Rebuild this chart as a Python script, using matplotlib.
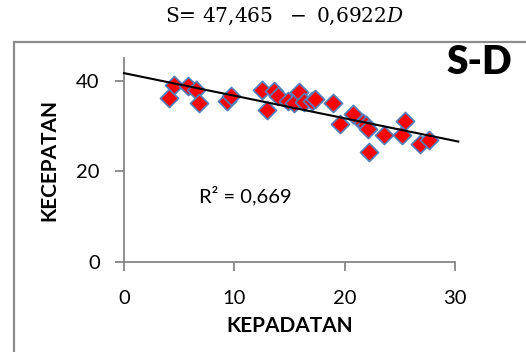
import numpy as np
import matplotlib
matplotlib.use('Agg')
import matplotlib.pyplot as plt
from matplotlib.patches import Rectangle

plt.rcParams['font.family'] = ['Lato', 'DejaVu Sans']
plt.rcParams['mathtext.fontset'] = 'dejavuserif'

# kepadatan (D) vs kecepatan (S)
kepadatan = [4.1, 4.5, 5.8, 6.5, 6.8, 9.3, 9.7, 12.5, 13.0, 13.6, 14.0, 14.9,
             15.4, 15.9, 16.3, 17.0, 17.3, 18.9, 19.6, 20.8, 21.7, 21.9, 22.1,
             22.2, 23.6, 25.2, 25.5, 26.8, 27.6]
kecepatan = [36.2, 39.0, 38.8, 37.9, 35.0, 35.5, 36.5, 38.0, 33.6, 37.7, 36.5,
             35.6, 35.0, 37.5, 35.3, 35.6, 36.0, 35.0, 30.5, 32.6, 30.7, 30.2,
             29.4, 24.3, 27.9, 27.9, 31.1, 26.1, 26.9]
x_ticks = [0, 10, 20, 30]
y_ticks = [0, 20, 40]
equation = r"S= $47{,}465\ \ -\ 0{,}6922D$"
r2_label = "R² = 0,669"
chart_tag = "S-D"

W, H = 526, 352
fig = plt.figure(figsize=(W / 100, H / 100), dpi=100)
grey = '#868686'

# chart frame (cut off at right/bottom like the source)
fig.patches.append(Rectangle((13.5 / W, -0.1), 1.2, (H - 42) / H + 0.1,
                             transform=fig.transFigure, fill=False,
                             edgecolor='#8c8c8c', linewidth=1.6))

ax = fig.add_axes([124 / W, 1 - 261.7 / H, (455 - 124) / W, (261.7 - 58) / H])
ax.scatter(kepadatan, kecepatan, marker='D', s=85, color='red',
           edgecolors='#4F81BD', linewidths=1.2, zorder=3)

# linear trendline
coef = np.polyfit(kepadatan, kecepatan, 1)
xs = np.array([0, 30.3])
ax.plot(xs, np.polyval(coef, xs), color='black', lw=1.5, zorder=4,
        clip_on=False)

ax.set_xlim(0, 30)
ax.set_ylim(0, 45)
ax.set_xticks(x_ticks)
ax.set_yticks(y_ticks)
for s in ['top', 'right']:
    ax.spines[s].set_visible(False)
for s in ['left', 'bottom']:
    ax.spines[s].set_color(grey)
    ax.spines[s].set_linewidth(1.3)
ax.tick_params(axis='both', colors=grey, width=1.3, length=6.5,
               labelcolor='black', labelsize=14.5)
ax.tick_params(axis='y', pad=11)
ax.tick_params(axis='x', pad=14)

ax.set_xlabel('KEPADATAN', fontsize=15, fontweight='bold', labelpad=6)
ax.set_ylabel('KECEPATAN', fontsize=15, fontweight='bold', labelpad=12)

ax.text(245 / W, 1 - 196 / H, r2_label, transform=fig.transFigure,
        fontsize=14.5, ha='center', va='center')
fig.text(479 / W, 1 - 62 / H, chart_tag, fontsize=28, fontweight='heavy',
         ha='center', va='center')
fig.text(284 / W, 1 - 16 / H, equation, fontfamily='DejaVu Serif',
         fontsize=14.5, ha='center', va='center')

fig.savefig('out.png', dpi=100)
